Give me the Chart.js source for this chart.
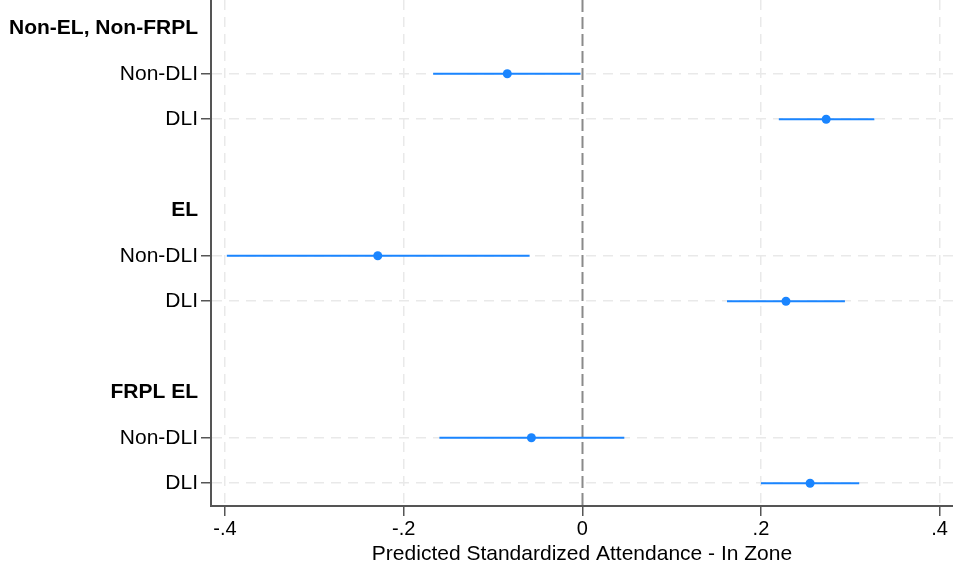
<!DOCTYPE html>
<html>
<head>
<meta charset="utf-8">
<script src="https://cdn.jsdelivr.net/npm/chart.js@4.4.1/dist/chart.umd.min.js"></script>
<style>
  html, body { margin: 0; padding: 0; background: #ffffff; }
  #wrap { width: 953px; height: 571px; position: relative; }
</style>
</head>
<body>
<div id="wrap"><canvas id="c" width="953" height="571"></canvas></div>
<script>
// ---- data ----
const groups = ['Non-EL, Non-FRPL', 'EL', 'FRPL EL'];
const rowLabels = ['Non-DLI', 'DLI'];
const estimates = [-0.084, 0.273, -0.229, 0.228, -0.057, 0.255];
const lower     = [-0.167, 0.220, -0.398, 0.162, -0.160, 0.200];
const upper     = [-0.002, 0.327, -0.059, 0.294, 0.047, 0.310];
const xTickValues = [-0.4, -0.2, 0, 0.2, 0.4];
const xTickLabels = ['-.4', '-.2', '0', '.2', '.4'];
const xTitle = 'Predicted Standardized Attendance - In Zone';

// ---- build positions ----
const yLabelMap = {};
const headerPos = new Set();
const rowPos = [];
groups.forEach((g, gi) => {
  const h = 1 + gi * 4;
  yLabelMap[h] = g;
  headerPos.add(h);
  rowLabels.forEach((r, ri) => {
    const p = h + 1 + ri;
    yLabelMap[p] = r;
    rowPos.push(p);
  });
});
const yTickValues = Object.keys(yLabelMap).map(Number).sort((a, b) => a - b);

const blue = '#1a85ff';
const FONT = "'Liberation Sans', Arial, Helvetica, sans-serif";
const GRID = '#e9e9e9';

const datasets = [];
rowPos.forEach((p, i) => {
  datasets.push({
    type: 'line',
    data: [{ x: lower[i], y: p }, { x: upper[i], y: p }],
    borderColor: blue,
    borderWidth: 2,
    pointRadius: 0,
    pointHoverRadius: 0,
    fill: false,
    tension: 0,
    order: 2
  });
});
datasets.push({
  type: 'scatter',
  data: rowPos.map((p, i) => ({ x: estimates[i], y: p })),
  backgroundColor: blue,
  borderColor: blue,
  pointRadius: 4.5,
  pointBorderWidth: 0,
  order: 1
});

const zeroLine = {
  id: 'zeroLine',
  beforeDatasetsDraw(chart) {
    const { ctx, chartArea, scales } = chart;
    const x = Math.round(scales.x.getPixelForValue(0)) + 0.5;
    ctx.save();
    ctx.strokeStyle = '#8a8a8a';
    ctx.lineWidth = 2;
    ctx.setLineDash([12, 5]);
    ctx.beginPath();
    ctx.moveTo(x, chartArea.top);
    ctx.lineTo(x, chartArea.bottom);
    ctx.stroke();
    ctx.restore();
  }
};

new Chart(document.getElementById('c'), {
  data: { datasets },
  plugins: [zeroLine],
  options: {
    responsive: false,
    animation: false,
    layout: { padding: 0, autoPadding: false },
    plugins: { legend: { display: false }, tooltip: { enabled: false } },
    scales: {
      x: {
        type: 'linear',
        min: -0.4157,
        max: 0.415,
        afterBuildTicks: (s) => { s.ticks = xTickValues.map(v => ({ value: v })); },
        afterFit: (s) => { s.height = 65; s.paddingLeft = 0; s.paddingRight = 0; },
        ticks: {
          color: '#000',
          font: { family: FONT, size: 20 },
          padding: 1,
          maxRotation: 0,
          autoSkip: false,
          callback: (v) => { const i = xTickValues.findIndex(t => Math.abs(t - v) < 1e-9); return i >= 0 ? xTickLabels[i] : ''; }
        },
        grid: {
          color: (c) => (c.tick && Math.abs(c.tick.value) < 1e-9) ? 'rgba(0,0,0,0)' : GRID,
          lineWidth: 1.5,
          tickColor: '#555',
          tickLength: 10,
          tickWidth: 1.5,
          tickBorderDash: [],
          drawTicks: true
        },
        border: { display: true, color: '#555', width: 2, dash: [10, 7] },
        title: {
          display: true,
          text: xTitle,
          color: '#000',
          font: { family: FONT, size: 21 },
          padding: { top: 0, bottom: 4 }
        }
      },
      y: {
        type: 'linear',
        reverse: true,
        min: 0.38,
        max: 11.5,
        afterBuildTicks: (s) => { s.ticks = yTickValues.map(v => ({ value: v })); },
        afterFit: (s) => { s.width = 211; s.paddingTop = 0; s.paddingBottom = 0; },
        ticks: {
          color: '#000',
          autoSkip: false,
          padding: 3,
          font: (c) => ({ family: FONT, size: 21, weight: (c.tick && headerPos.has(c.tick.value)) ? 'bold' : 'normal' }),
          callback: (v) => yLabelMap[v] || ''
        },
        grid: {
          color: (c) => (c.tick && headerPos.has(c.tick.value)) ? 'rgba(0,0,0,0)' : GRID,
          tickColor: (c) => (c.tick && headerPos.has(c.tick.value)) ? 'rgba(0,0,0,0)' : '#555',
          lineWidth: 1.5,
          tickLength: 10,
          tickWidth: 1.5,
          tickBorderDash: []
        },
        border: { display: true, color: '#555', width: 2, dash: [10, 7] }
      }
    }
  }
});
</script>
</body>
</html>
